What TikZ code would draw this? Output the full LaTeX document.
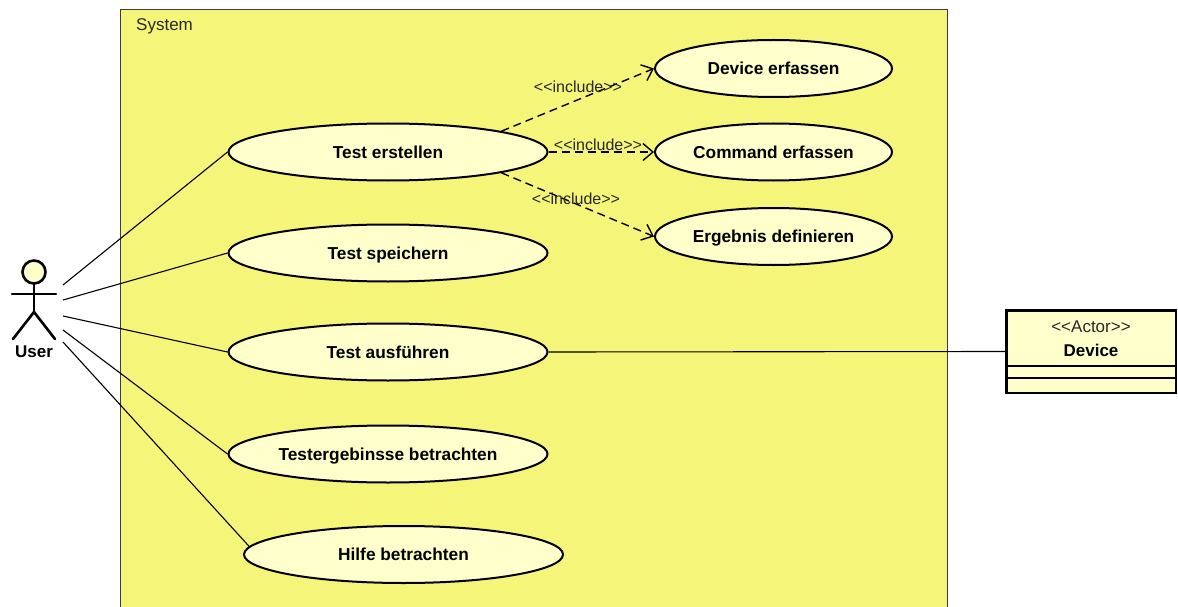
\documentclass[tikz,border=0pt]{standalone}
\usepackage{fontspec}
\setmainfont{Liberation Sans}
\usetikzlibrary{shapes.geometric,arrows.meta,calc}
\definecolor{sysfill}{RGB}{245,245,122}
\definecolor{ucfill}{RGB}{255,255,204}
\definecolor{sysline}{RGB}{60,60,60}
\definecolor{labeltext}{RGB}{40,40,40}

\begin{document}
\begin{tikzpicture}[x=1pt,y=-1pt,
  usecase/.style={ellipse, draw, line width=2pt, fill=ucfill, inner sep=0pt,
    text height=16pt, text depth=3.5pt,
    font=\fontsize{17.3}{20}\selectfont\bfseries},
  bigcase/.style={usecase, minimum width=319pt, minimum height=57pt},
  smallcase/.style={usecase, minimum width=237pt, minimum height=57pt},
  assoc/.style={line width=1.1pt},
  incl/.style={line width=1.4pt, dash pattern=on 8pt off 5pt,
    -{Straight Barb[length=10pt,width=17pt,line width=1.4pt]}},
  incllabel/.style={font=\fontsize{16}{18}\selectfont, text=labeltext, inner sep=0pt},
  stickman/.style={line width=2.6pt, line cap=round},
  plain/.style={font=\fontsize{17}{20}\selectfont, inner sep=0pt},
  boldtext/.style={font=\fontsize{17}{20}\selectfont\bfseries, inner sep=0pt}
]
\useasboundingbox (0,0) rectangle (1178,607);

% system boundary
\draw[sysline, fill=sysfill, line width=1pt] (120.5,9.5) rectangle (947.5,615);
\node[plain, text=labeltext, anchor=west] (systitle) at (136,26) {System};

% use cases
\node[bigcase] (te) at (388,152) {Test erstellen};
\node[bigcase] (ts) at (388,253) {Test speichern};
\node[bigcase] (ta) at (388,352) {Test ausführen};
\node[bigcase] (tb) at (388,454) {Testergebinsse betrachten};
\node[bigcase] (hb) at (403.5,554.5) {Hilfe betrachten};
\node[smallcase] (de) at (773.5,68.5) {Device erfassen};
\node[smallcase] (ce) at (773.5,152) {Command erfassen};
\node[smallcase] (ed) at (773.5,236.5) {Ergebnis definieren};

% include relations
\draw[incl] (te.north east) -- (de.west);
\draw[incl] (te.east) -- (ce.west);
\draw[incl] (te.south east) -- (ed.west);
\node[incllabel] (l1) at (578,87) {<{}<include>{}>};
\node[incllabel] (l2) at (598,145) {<{}<include>{}>};
\node[incllabel] (l3) at (576,199) {<{}<include>{}>};

% actor User
\draw[stickman, fill=ucfill] (34,272) circle (11.5);
\coordinate (neck) at (34,283.5);
\coordinate (hip) at (34,312);
\coordinate (lhand) at (12,294);
\coordinate (rhand) at (56,294);
\coordinate (lfoot) at (13,339);
\coordinate (rfoot) at (55,339);
\draw[stickman] (neck) -- (hip);
\draw[stickman] (lhand) -- (rhand);
\draw[stickman] (lfoot) -- (hip) -- (rfoot);
\node[boldtext] (user) at (34,352) {User};

\coordinate (ua) at (63,285);
\coordinate (ub) at (63,300);
\coordinate (uc) at (63,316);
\coordinate (ud) at (63,330);
\coordinate (ue) at (63,342);
\draw[assoc] (ua) -- (te.west);
\draw[assoc] (ub) -- (ts.west);
\draw[assoc] (uc) -- (ta.west);
\draw[assoc] (ud) -- (tb.west);
\draw[assoc] (ue) -- (hb.177);

% actor Device
\node[draw, line width=2.5pt, fill=ucfill, minimum width=169.5pt, minimum height=82.5pt,
  inner sep=0pt] (dev) at (1091,351.5) {};
\node[plain, text=labeltext] (devst) at (1091,327) {<{}<Actor>{}>};
\node[boldtext] (devname) at (1091,350) {Device};
\draw[line width=1.2pt] (dev.west |- 0,366) -- (dev.east |- 0,366);
\draw[line width=1.2pt] (dev.west |- 0,378) -- (dev.east |- 0,378);
\draw[assoc] (ta.east) -- (dev.west);
\end{tikzpicture}
\end{document}
